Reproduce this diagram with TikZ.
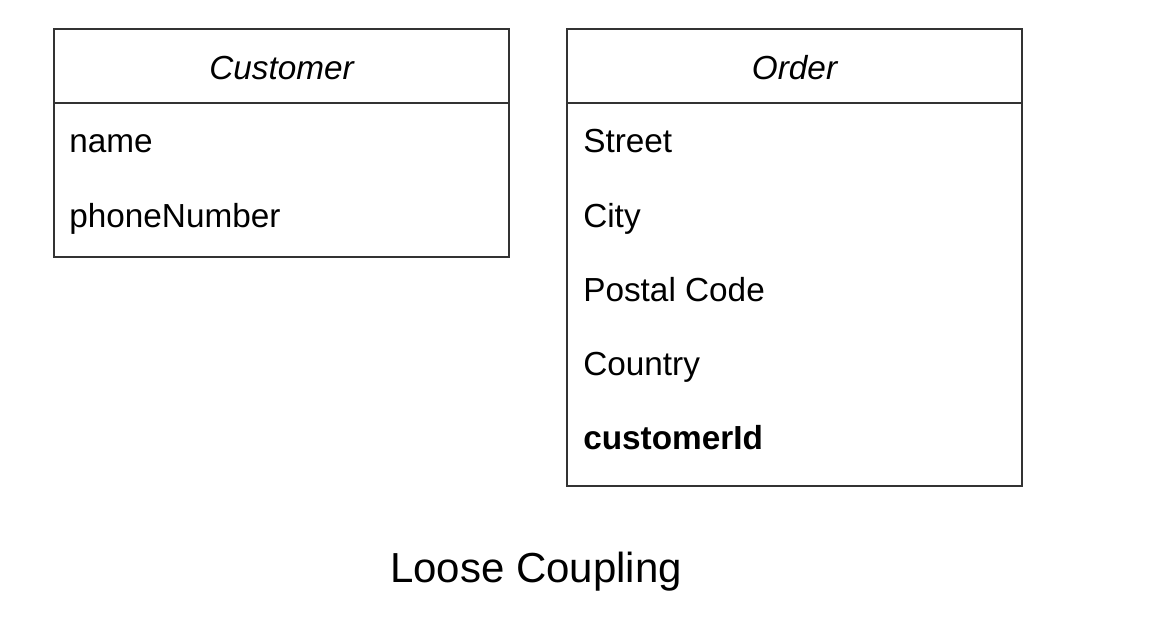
\documentclass[tikz,border=0pt]{standalone}
\usepackage{fontspec}
\setmainfont{Liberation Sans}
\tikzset{
	classbox/.style={draw={rgb,255:red,51;green,51;blue,51}, line width=1.1pt},
	attr/.style={anchor=base west, inner sep=0pt, font=\fontsize{25}{30}\selectfont},
	title/.style={anchor=base, inner sep=0pt, font=\fontsize{25}{30}\selectfont\itshape},
}
\begin{document}
\begin{tikzpicture}[x=0.75pt,y=0.75pt,yscale=-1,xscale=1]
			\useasboundingbox (0,0) rectangle (1170,622);
			%Customer class
			\draw [classbox] (54,29) rectangle (509,257);
			\draw [classbox] (54,103) -- (509,103);
			%Order class
			\draw [classbox] (567,29) rectangle (1022,486);
			\draw [classbox] (567,103) -- (1022,103);

			% Text Node
			\node [title] (customer) at (281.5,79) {Customer};
			\node [attr] (name) at (69,152) {name};
			\node [attr] (phone) at (69,227) {phoneNumber};
			% Text Node
			\node [title] (order) at (794.5,79) {Order};
			\node [attr] (street) at (583,152) {Street};
			\node [attr] (city) at (583,227) {City};
			\node [attr] (postal) at (583,301) {Postal Code};
			\node [attr] (country) at (583,375) {Country};
			\node [attr, font=\fontsize{25}{30}\selectfont\bfseries] (custid) at (583,449) {customerId};
			% Text Node
			\node [anchor=base, inner sep=0pt, font=\fontsize{31.5}{38}\selectfont] (caption) at (536,582) {Loose Coupling};
\end{tikzpicture}
\end{document}
